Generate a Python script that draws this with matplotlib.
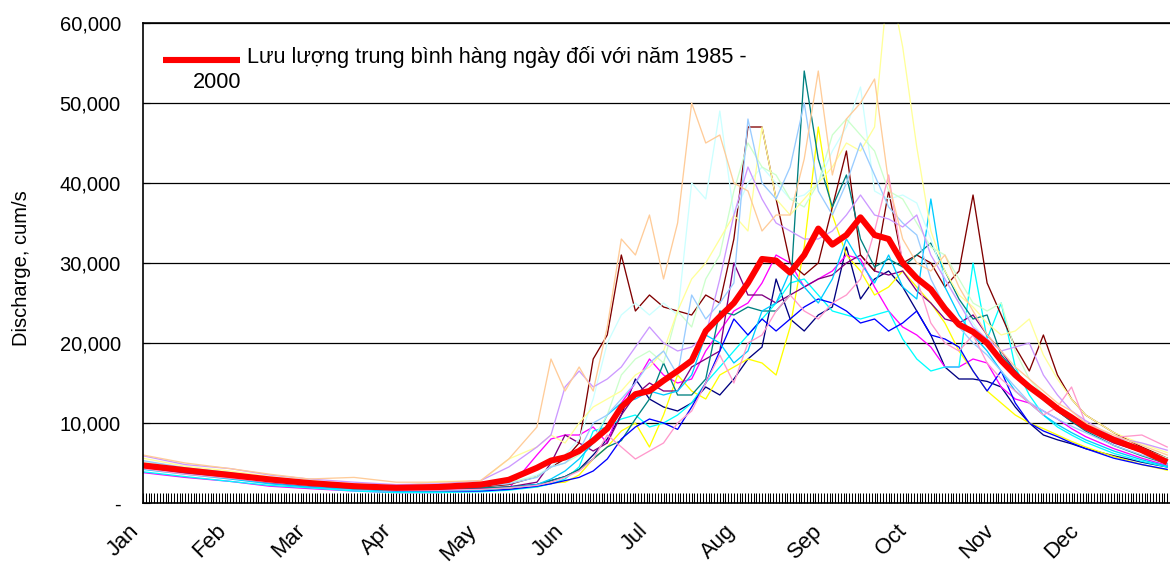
import numpy as np
import matplotlib
matplotlib.use("Agg")
import matplotlib.pyplot as plt
from matplotlib.ticker import MultipleLocator, FixedLocator

plt.rcParams['font.family'] = ['Liberation Sans', 'DejaVu Sans']

# day of year of each reading (0 = 1 Jan)
days = [0, 15, 31, 45, 59, 75, 90, 105, 120, 130,
        140, 145, 150, 155, 160, 165, 170, 175, 180, 185,
        190, 195, 200, 205, 210, 215, 220, 225, 230, 235,
        240, 245, 250, 255, 260, 265, 270, 275, 280, 285,
        290, 295, 300, 305, 310, 315, 320, 325, 330, 335,
        345, 355, 364]

# daily discharge, thousand cum/s
q1985 = [4.8, 4.0, 3.4, 2.8, 2.3, 1.9, 1.6, 1.7, 1.8, 2.0,
         2.3, 2.8, 3.3, 4.2, 6.0, 8.0, 11.0, 15.5, 13.0, 12.0,
         11.5, 12.5, 14.5, 13.5, 15.5, 18.0, 19.5, 28.0, 23.0, 21.5,
         23.5, 24.5, 32.0, 25.5, 28.0, 29.0, 27.0, 24.0, 21.0, 17.0,
         15.5, 15.5, 15.2, 14.5, 12.0, 10.0, 8.5, 7.9, 7.4, 6.8,
         5.9, 5.1, 4.5]
q1986 = [3.8, 3.2, 2.7, 2.1, 1.8, 1.5, 1.3, 1.3, 1.5, 1.8,
         6.0, 8.0, 8.5, 8.5, 9.5, 7.5, 12.5, 15.0, 18.0, 16.0,
         15.0, 15.5, 19.0, 21.5, 24.0, 25.0, 27.5, 31.0, 30.0, 27.0,
         28.0, 29.0, 31.0, 30.5, 27.0, 24.0, 22.0, 21.0, 19.5, 17.0,
         17.0, 18.0, 17.5, 14.5, 13.0, 12.5, 11.5, 10.5, 9.3, 8.3,
         6.8, 5.6, 4.7]
q1987 = [4.5, 3.8, 3.2, 2.6, 2.2, 1.9, 1.6, 1.5, 1.6, 1.8,
         2.0, 2.5, 2.6, 3.5, 5.5, 7.0, 9.0, 10.0, 7.0, 11.0,
         16.0, 14.0, 13.0, 16.0, 17.0, 18.0, 17.5, 16.0, 22.0, 32.0,
         47.0, 36.0, 31.0, 29.0, 26.0, 27.0, 29.0, 27.0, 25.0, 22.5,
         19.0, 16.5, 14.0, 12.5, 11.0, 10.0, 9.3, 8.5, 7.7, 7.0,
         5.8, 4.8, 4.1]
q1988 = [3.9, 3.3, 2.7, 2.2, 1.9, 1.5, 1.3, 1.3, 1.4, 1.6,
         2.0, 2.4, 3.0, 4.5, 9.0, 9.5, 10.5, 11.0, 9.5, 10.0,
         11.0, 12.5, 15.0, 17.0, 19.0, 21.0, 23.0, 25.0, 27.5, 28.0,
         26.0, 24.0, 23.5, 23.0, 23.5, 24.0, 20.5, 18.0, 16.5, 17.0,
         17.0, 30.0, 20.5, 25.0, 17.0, 13.5, 11.0, 9.5, 8.5, 7.6,
         6.2, 5.2, 4.5]
q1989 = [4.4, 3.7, 3.1, 2.5, 2.1, 1.8, 1.6, 1.6, 1.8, 2.0,
         2.6, 5.0, 8.5, 7.5, 6.5, 7.5, 11.0, 13.5, 15.0, 14.0,
         14.0, 17.0, 18.0, 19.0, 30.0, 26.0, 26.0, 25.0, 26.0, 27.0,
         28.0, 28.5, 30.0, 31.0, 29.0, 28.5, 29.0, 26.5, 25.0, 23.0,
         22.5, 23.5, 21.0, 19.0, 16.5, 14.5, 13.0, 11.5, 10.2, 9.2,
         7.5, 6.4, 5.6]
q1990 = [4.8, 4.0, 3.4, 2.9, 2.4, 2.1, 1.9, 1.9, 2.0, 2.3,
         3.3, 4.5, 5.5, 7.5, 18.0, 21.0, 31.0, 24.0, 26.0, 24.5,
         24.0, 23.5, 26.0, 25.0, 33.0, 47.0, 47.0, 38.0, 30.0, 28.5,
         30.0, 37.0, 44.0, 31.0, 29.0, 39.0, 30.0, 31.0, 30.0, 27.0,
         29.0, 38.5, 27.5, 23.5, 19.5, 16.5, 21.0, 16.0, 13.0, 11.0,
         8.8, 7.0, 5.6]
q1991 = [4.9, 4.2, 3.6, 3.0, 2.5, 2.2, 1.8, 1.8, 1.9, 2.0,
         2.3, 2.8, 3.3, 4.2, 5.5, 7.0, 7.8, 10.5, 13.0, 17.5,
         13.5, 13.5, 15.5, 24.0, 23.5, 24.5, 24.0, 24.0, 26.0, 54.0,
         43.0, 37.0, 41.0, 33.0, 29.5, 30.5, 29.5, 31.0, 32.5, 29.0,
         25.5, 23.0, 23.5, 18.5, 16.5, 14.5, 12.9, 11.5, 10.2, 9.0,
         7.2, 5.9, 4.9]
q1992 = [4.6, 3.8, 3.2, 2.6, 2.2, 1.8, 1.5, 1.5, 1.5, 1.7,
         2.1, 2.4, 2.8, 3.2, 4.0, 5.5, 8.0, 9.5, 10.5, 10.0,
         9.2, 12.0, 15.0, 19.0, 23.0, 21.0, 23.0, 21.5, 23.0, 24.5,
         25.5, 25.0, 24.0, 22.5, 23.0, 21.5, 22.5, 24.0, 21.0, 20.5,
         19.5, 16.5, 14.0, 16.5, 12.5, 10.0, 9.0, 8.3, 7.5, 6.8,
         5.6, 4.8, 4.2]
q1993 = [4.2, 3.6, 3.0, 2.4, 2.0, 1.7, 1.5, 1.5, 1.6, 1.9,
         2.3, 3.0, 4.0, 5.5, 7.5, 11.0, 12.5, 13.0, 14.0, 13.5,
         14.0, 16.0, 21.0, 20.0, 17.5, 19.0, 24.0, 25.0, 29.0, 27.0,
         25.0, 28.0, 33.0, 30.0, 27.5, 31.0, 27.0, 25.5, 38.0, 27.0,
         23.5, 21.0, 19.0, 16.5, 14.0, 12.5, 11.0, 9.8, 8.8, 7.9,
         6.5, 5.4, 4.6]
q1994 = [5.0, 4.3, 3.7, 3.1, 2.6, 2.2, 1.9, 2.0, 2.2, 2.5,
         3.5, 4.5, 6.0, 8.0, 13.0, 20.0, 23.5, 25.0, 23.5, 25.0,
         23.5, 40.0, 38.0, 49.0, 36.0, 40.0, 42.0, 40.0, 38.0, 38.5,
         40.0, 44.0, 47.0, 52.0, 39.0, 38.0, 38.5, 37.5, 33.0, 28.0,
         25.0, 22.5, 20.0, 18.0, 16.0, 14.5, 13.0, 11.8, 10.5, 9.5,
         7.8, 6.5, 5.3]
q1995 = [5.2, 4.4, 3.8, 3.1, 2.6, 2.3, 2.0, 2.1, 2.3, 2.6,
         3.3, 4.5, 5.0, 6.0, 8.0, 11.0, 16.0, 18.0, 19.0, 17.5,
         24.0, 22.0, 28.0, 31.0, 39.0, 45.0, 42.0, 41.0, 38.0, 37.0,
         40.0, 46.0, 48.0, 46.0, 44.0, 39.0, 38.0, 35.0, 32.0, 31.0,
         28.0, 25.0, 24.0, 25.0, 19.0, 15.5, 13.5, 12.0, 10.8, 9.8,
         8.0, 6.8, 5.6]
q1996 = [5.6, 4.6, 4.0, 3.3, 2.8, 2.4, 2.1, 2.7, 2.7, 5.5,
         7.0, 8.5, 7.5, 10.0, 12.0, 13.0, 14.0, 16.0, 17.0, 19.0,
         24.0, 28.0, 30.0, 33.0, 36.0, 34.0, 47.0, 38.0, 36.0, 38.0,
         40.0, 42.0, 45.0, 44.0, 47.0, 66.0, 57.0, 44.5, 34.0, 29.0,
         26.0, 24.5, 22.5, 21.0, 21.5, 23.0, 18.5, 15.5, 13.0, 11.0,
         8.8, 7.4, 6.3]
q1997 = [5.3, 4.4, 3.8, 3.1, 2.6, 2.2, 1.8, 1.9, 2.1, 2.4,
         3.2, 4.5, 5.0, 6.5, 10.0, 11.0, 13.0, 15.0, 17.5, 19.0,
         16.0, 26.0, 23.0, 25.0, 27.5, 48.0, 40.0, 38.0, 42.0, 50.0,
         39.0, 36.0, 40.0, 45.0, 41.0, 37.0, 35.0, 33.5, 28.0, 24.5,
         22.0, 20.0, 18.5, 16.5, 14.5, 12.6, 11.5, 10.5, 9.6, 8.8,
         7.2, 6.0, 5.0]
q1998 = [4.3, 3.6, 3.1, 2.6, 2.2, 1.9, 1.6, 1.6, 1.7, 1.9,
         2.2, 2.6, 3.2, 4.0, 5.5, 8.5, 7.0, 5.5, 6.5, 7.5,
         10.0, 11.5, 15.0, 18.5, 15.0, 20.0, 21.0, 24.0, 26.0, 24.0,
         23.0, 25.0, 26.0, 28.0, 34.0, 41.0, 30.0, 28.0, 22.5, 20.0,
         19.0, 21.0, 17.5, 15.5, 14.0, 12.5, 11.0, 12.0, 14.5, 10.0,
         8.2, 8.5, 7.0]
q1999 = [5.9, 4.8, 4.3, 3.5, 3.0, 2.6, 2.3, 2.4, 2.8, 4.5,
         7.0, 8.5, 14.5, 16.5, 14.5, 15.5, 17.0, 19.5, 22.0, 20.0,
         19.0, 19.5, 21.0, 28.0, 36.0, 42.0, 38.0, 35.0, 34.0, 33.0,
         33.0, 34.0, 36.0, 38.5, 36.0, 35.5, 34.5, 36.0, 31.0, 28.0,
         25.0, 22.0, 20.5, 19.0, 19.5, 20.0, 16.0, 13.5, 11.5, 10.3,
         8.2, 7.5, 6.6]
q2000 = [6.0, 5.0, 4.3, 3.6, 3.0, 3.2, 2.6, 2.6, 2.8, 5.5,
         9.5, 18.0, 14.0, 17.0, 14.0, 22.0, 33.0, 31.0, 36.0, 28.0,
         35.0, 50.0, 45.0, 46.0, 40.0, 39.0, 34.0, 36.0, 36.0, 43.0,
         54.0, 41.0, 48.0, 50.0, 53.0, 40.0, 33.0, 30.0, 29.0, 31.0,
         27.0, 24.0, 21.0, 19.0, 17.0, 15.5, 14.0, 12.5, 11.5, 10.0,
         8.5, 7.2, 6.0]

# average daily discharge 1985 - 2000, thousand cum/s
q_mean = [4.7, 4.1, 3.5, 2.95, 2.5, 2.1, 1.9, 2.0, 2.3, 2.9,
          4.4, 5.3, 5.7, 6.5, 7.8, 9.3, 12.0, 13.6, 14.0, 15.3,
          16.5, 17.8, 21.5, 23.3, 25.0, 27.5, 30.5, 30.3, 28.8, 31.0,
          34.3, 32.3, 33.5, 35.7, 33.5, 33.0, 30.0, 28.1, 26.7, 24.3,
          22.3, 21.4, 20.0, 17.8, 16.0, 14.5, 13.2, 11.8, 10.7, 9.5,
          7.9, 6.6, 5.1]

years = [q1985, q1986, q1987, q1988, q1989, q1990, q1991, q1992,
         q1993, q1994, q1995, q1996, q1997, q1998, q1999, q2000]
year_colors = ["#000080", "#FF00FF", "#FFFF00", "#00FFFF", "#800080", "#800000",
               "#008080", "#0000FF", "#00CCFF", "#CCFFFF", "#CCFFCC", "#FFFF99",
               "#99CCFF", "#FF99CC", "#CC99FF", "#FFCC99"]

month_starts = [0, 31, 59, 90, 120, 151, 181, 212, 243, 273, 304, 334]
month_names = ["Jan", "Feb", "Mar", "Apr", "May", "Jun",
               "Jul", "Aug", "Sep", "Oct", "Nov", "Dec"]
y_ticks = [0, 10000, 20000, 30000, 40000, 50000, 60000]
y_tick_labels = ["-", "10,000", "20,000", "30,000", "40,000", "50,000", "60,000"]

FS = 14.5
LEGEND_FS = 15.7

fig = plt.figure(figsize=(11.7, 5.66), dpi=100)
ax = fig.add_axes([143 / 1170, 63 / 566, 1027 / 1170, 480 / 566])

x = np.array(days)
for q, c in zip(years, year_colors):
    ax.plot(x, np.array(q) * 1000, color=c, lw=0.95)
ax.plot(x, np.array(q_mean) * 1000, color="#FF0000", lw=4.4,
        solid_joinstyle="round", solid_capstyle="butt")

ax.set_xlim(0, 365)
ax.set_ylim(0, 60000)

ax.set_yticks(y_ticks)
ax.set_yticklabels(y_tick_labels, fontsize=FS)
ax.tick_params(axis="y", direction="in", length=5, width=0.8, pad=16)
ax.yaxis.grid(True, color="black", lw=0.9)
ax.set_axisbelow(True)

ax.xaxis.set_major_locator(FixedLocator(month_starts))
ax.xaxis.set_minor_locator(MultipleLocator(1))
ax.set_xticklabels(month_names, fontsize=15.8, rotation=45, ha="right", va="top")
ax.tick_params(axis="x", which="both", direction="in", length=7, width=0.75,
               color="black", pad=12.5)

ax.set_ylabel("Discharge, cum/s", fontsize=FS)
ax.yaxis.set_label_coords(-0.109, 0.49)

for side in ["left", "bottom", "top"]:
    ax.spines[side].set_color("black")
    ax.spines[side].set_linewidth(1.2)
ax.spines["right"].set_visible(False)

# legend entry for the average line, wrapped over two rows
ax.plot([0.0195, 0.0945], [0.923, 0.923], color="#FF0000", lw=4.4,
        transform=ax.transAxes, solid_capstyle="butt")
ax.text(0.1013, 0.9167, "Lưu lượng trung bình hàng ngày đối với năm 1985 -",
        transform=ax.transAxes, fontsize=LEGEND_FS, va="baseline", ha="left")
ax.text(0.0487, 0.8646, "2000", transform=ax.transAxes, fontsize=LEGEND_FS,
        va="baseline", ha="left")

fig.savefig("out.png", dpi=100)
